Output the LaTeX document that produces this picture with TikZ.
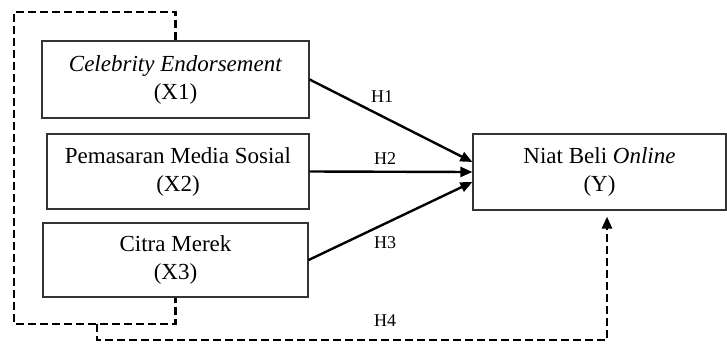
\documentclass[tikz,border=0pt]{standalone}
\usepackage{fontspec}
\setmainfont{Liberation Serif}
\usepackage{tikz}
\usetikzlibrary{arrows.meta, calc}

\begin{document}
\begin{tikzpicture}[
  x=1pt, y=-1pt,
  var/.style={draw=black!80, line width=1.2pt, minimum height=76pt, inner sep=0pt, align=center, font=\fontsize{23}{28}\selectfont},
  hyp/.style={font=\fontsize{18}{20}\selectfont},
  hyparrow/.style={draw, line width=2.4pt, -{Triangle[length=12pt,width=10pt]}},
  loopline/.style={draw, line width=2.8pt, dash pattern=on 8pt off 4pt}
]
\useasboundingbox (0,0) rectangle (727,343);
\node[var, minimum width=267pt, minimum height=77pt] (x1) at (175.5,79.5) {\textit{Celebrity Endorsement}\\(X1)};
\node[var, minimum width=262pt, minimum height=75pt] (x2) at (178,171.5) {Pemasaran Media Sosial\\(X2)};
\node[var, minimum width=265pt, minimum height=74pt] (x3) at (175.5,260) {Citra Merek\\(X3)};
\node[var, minimum width=253pt] (y) at (599.5,172) {Niat Beli \textit{Online}\\(Y)};
% hypotheses
\draw[hyparrow] (x1.east) -- ([yshift=10pt]y.west);
\draw[hyparrow] (x2.east) -- (y.west);
\draw[hyparrow] (x3.east) -- ([yshift=-10pt]y.west);
\node[hyp] (h1) at (382,97) {H1};
\node[hyp] (h2) at (385,159) {H2};
\node[hyp] (h3) at (385,243) {H3};
\node[hyp] (h4) at (385,321) {H4};
% joint effect
\coordinate (tl) at (14,12);
\coordinate (bl) at (14,324);
\coordinate (br) at (97,324);
\coordinate (low) at (97,340);
\draw[loopline] (x1.north) |- (tl) -- (bl) -| (x3.south);
\draw[loopline, -{Triangle[length=12pt,width=10pt]}] (br) -- (low) -| ([xshift=7.5pt,yshift=-6pt]y.south);
\end{tikzpicture}
\end{document}
